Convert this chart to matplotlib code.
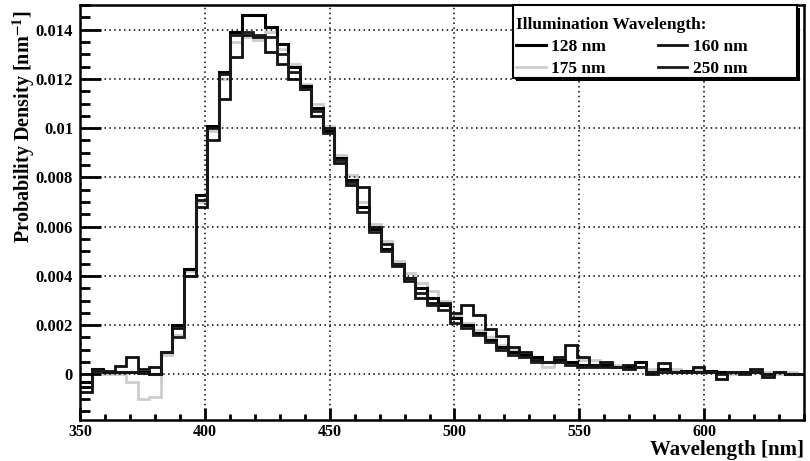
import numpy as np
import matplotlib
matplotlib.use("Agg")
import matplotlib.pyplot as plt
from matplotlib.patches import Rectangle
from matplotlib.ticker import MultipleLocator, FuncFormatter

plt.rcParams['font.family'] = ['Liberation Serif', 'DejaVu Serif']
plt.rcParams['font.weight'] = 'bold'
plt.rcParams['mathtext.fontset'] = 'stix'

# emission spectra, probability density per bin (nm^-1), bins start at 350 nm
bin_start = 350.0
bin_width = 4.63

spec_128 = [-0.0003, 0.0002, 0.0001, 0.0001, 0.0001, 0.0001, 0.0000, 0.0009, 0.0020, 0.0043,
            0.0073, 0.0101, 0.0123, 0.0139, 0.0146, 0.0146, 0.0141, 0.0134, 0.0125, 0.0117,
            0.0108, 0.0099, 0.0088, 0.0079, 0.0068, 0.0059, 0.0051, 0.0045, 0.0039, 0.0035,
            0.0031, 0.0028, 0.0023, 0.0020, 0.0017, 0.0014, 0.0011, 0.0009, 0.0008, 0.0007,
            0.0005, 0.0006, 0.0005, 0.0004, 0.0004, 0.0004, 0.0003, 0.0003, 0.0005, 0.0001,
            0.0002, 0.0001, 0.00015, 0.0001, 0.00015, 0.0001, 0.0001, 0.0001, 0.0001, 0.0000,
            0.0001, 0.0000, 0.0000]
spec_160 = [-0.0007, 0.0002, 0.00015, 0.00035, 0.0007, 0.0002, 0.0003, 0.0009, 0.0019, 0.0040,
            0.0068, 0.0095, 0.0112, 0.0129, 0.0138, 0.0137, 0.0131, 0.0126, 0.0120, 0.0116,
            0.0105, 0.0100, 0.0086, 0.0077, 0.0076, 0.0060, 0.0053, 0.0044, 0.0038, 0.0031,
            0.0029, 0.0029, 0.0025, 0.0028, 0.0024, 0.00184, 0.00155, 0.0011, 0.0009, 0.0006,
            0.0005, 0.0007, 0.0012, 0.0007, 0.0004, 0.0005, 0.0003, 0.0004, 0.0003, 0.0000,
            0.00045, 0.0001, 0.0001, 0.0003, 0.0001, -0.0002, 0.0001, 0.0001, 0.0002, -0.0001,
            0.0001, 0.0000, 0.0000]
spec_175 = [0.0000, 0.0001, 0.0000, 0.0000, -0.0003, -0.0010, -0.0009, 0.0008, 0.0016, 0.0042,
            0.0070, 0.0099, 0.0120, 0.0135, 0.0137, 0.0136, 0.0139, 0.0132, 0.0126, 0.0118,
            0.0110, 0.0101, 0.0089, 0.0081, 0.0070, 0.0061, 0.0054, 0.0046, 0.0041, 0.0037,
            0.0034, 0.0030, 0.0024, 0.0021, 0.0018, 0.0015, 0.0012, 0.0010, 0.0008, 0.0006,
            0.0003, 0.0005, 0.0004, 0.0006, 0.0006, 0.0005, 0.0004, 0.0002, 0.0003, 0.0002,
            0.0001, 0.0002, 0.0001, 0.0002, 0.0001, -0.0002, 0.0000, 0.0001, 0.0001, 0.0001,
            0.0000, 0.0001, 0.0000]
spec_250 = [-0.0005, 0.00015, 0.0001, 0.0001, 0.0001, 0.00005, 0.0000, 0.0009, 0.0015, 0.0040,
            0.0071, 0.0100, 0.0122, 0.0138, 0.0139, 0.0138, 0.0137, 0.0130, 0.0123, 0.0116,
            0.0107, 0.0098, 0.0087, 0.0078, 0.0066, 0.0058, 0.0050, 0.0045, 0.0039, 0.0033,
            0.0028, 0.0026, 0.0021, 0.0019, 0.0016, 0.0013, 0.0010, 0.0008, 0.0007, 0.0005,
            0.0005, 0.0005, 0.0004, 0.0003, 0.0003, 0.0003, 0.0003, 0.0002, 0.0003, 0.0001,
            0.0001, 0.0001, 0.0001, 0.0001, 0.0001, 0.0000, 0.0001, 0.0000, 0.0001, 0.0000,
            0.0001, 0.0000, 0.0000]

labels = ['128 nm', '160 nm', '175 nm', '250 nm']
colors = ['#000000', '#111111', '#cdcdcd', '#1a1a1a']
widths = [2.2, 2.0, 2.0, 2.0]

edges = bin_start + bin_width * np.arange(len(spec_128) + 1)

fig = plt.figure(figsize=(8.1, 4.61), dpi=100)
ax = fig.add_axes([0.0988, 0.089, 0.8938, 0.900])

series = [spec_128, spec_160, spec_175, spec_250]
handles = {}
# gray curve goes underneath the black ones
for i in [2, 0, 1, 3]:
    h = ax.stairs(series[i], edges, color=colors[i], linewidth=widths[i],
                  baseline=None, label=labels[i])
    handles[i] = h

ax.set_xlim(350, 640)
ax.set_ylim(-0.00185, 0.0150)

ax.xaxis.set_major_locator(MultipleLocator(50))
ax.xaxis.set_minor_locator(MultipleLocator(10))
ax.yaxis.set_major_locator(MultipleLocator(0.002))
ax.yaxis.set_minor_locator(MultipleLocator(0.0005))
ax.yaxis.set_major_formatter(FuncFormatter(lambda v, p: '0' if abs(v) < 1e-9 else '%g' % v))

ax.tick_params(axis='x', which='major', direction='in', length=9, width=2, pad=3, labelsize=11.5)
ax.tick_params(axis='x', which='minor', direction='in', length=4.5, width=2)
ax.tick_params(axis='y', which='major', direction='in', length=15, width=2, pad=5, labelsize=12)
ax.tick_params(axis='y', which='minor', direction='in', length=7.5, width=2)

ax.grid(True, which='major', color='black', linestyle=(0, (1, 2.2)), linewidth=1.1)
for s in ax.spines.values():
    s.set_linewidth(1.8)

ax.set_xlabel('Wavelength [nm]', fontsize=15, fontweight='bold', ha='right')
ax.xaxis.set_label_coords(1.0, -0.048)
ax.set_ylabel(r'Probability Density [nm$^{\mathbf{-1}}$]', fontsize=14.5, fontweight='bold', ha='right')
ax.yaxis.set_label_coords(-0.060, 0.988)

# legend box with a solid drop shadow, drawn by hand so it can be wider than its text
box = (0.598, 0.824, 0.392, 0.176)
ax.add_patch(Rectangle((box[0] + 0.0045, box[1] - 0.008), box[2], box[3],
                       transform=ax.transAxes, facecolor='black', edgecolor='none',
                       clip_on=False, zorder=4))
ax.add_patch(Rectangle((box[0], box[1]), box[2], box[3],
                       transform=ax.transAxes, facecolor='white', edgecolor='black',
                       linewidth=1.5, clip_on=False, zorder=4.5))

# row-wise entries: 128 | 160 on top, 175 | 250 below
order = [0, 2, 1, 3]
leg = ax.legend([handles[i] for i in order], [labels[i] for i in order], ncol=2,
                title='Illumination Wavelength:', loc='upper left',
                bbox_to_anchor=(0.594, 0.986), fontsize=12.5,
                title_fontproperties={'weight': 'bold', 'size': 12.5},
                alignment='left', frameon=False,
                handlelength=1.7, handletextpad=0.3, columnspacing=3.0,
                labelspacing=0.35, borderpad=0.35, borderaxespad=0.0)
leg.set_zorder(5)

fig.savefig('out.png', dpi=100)
